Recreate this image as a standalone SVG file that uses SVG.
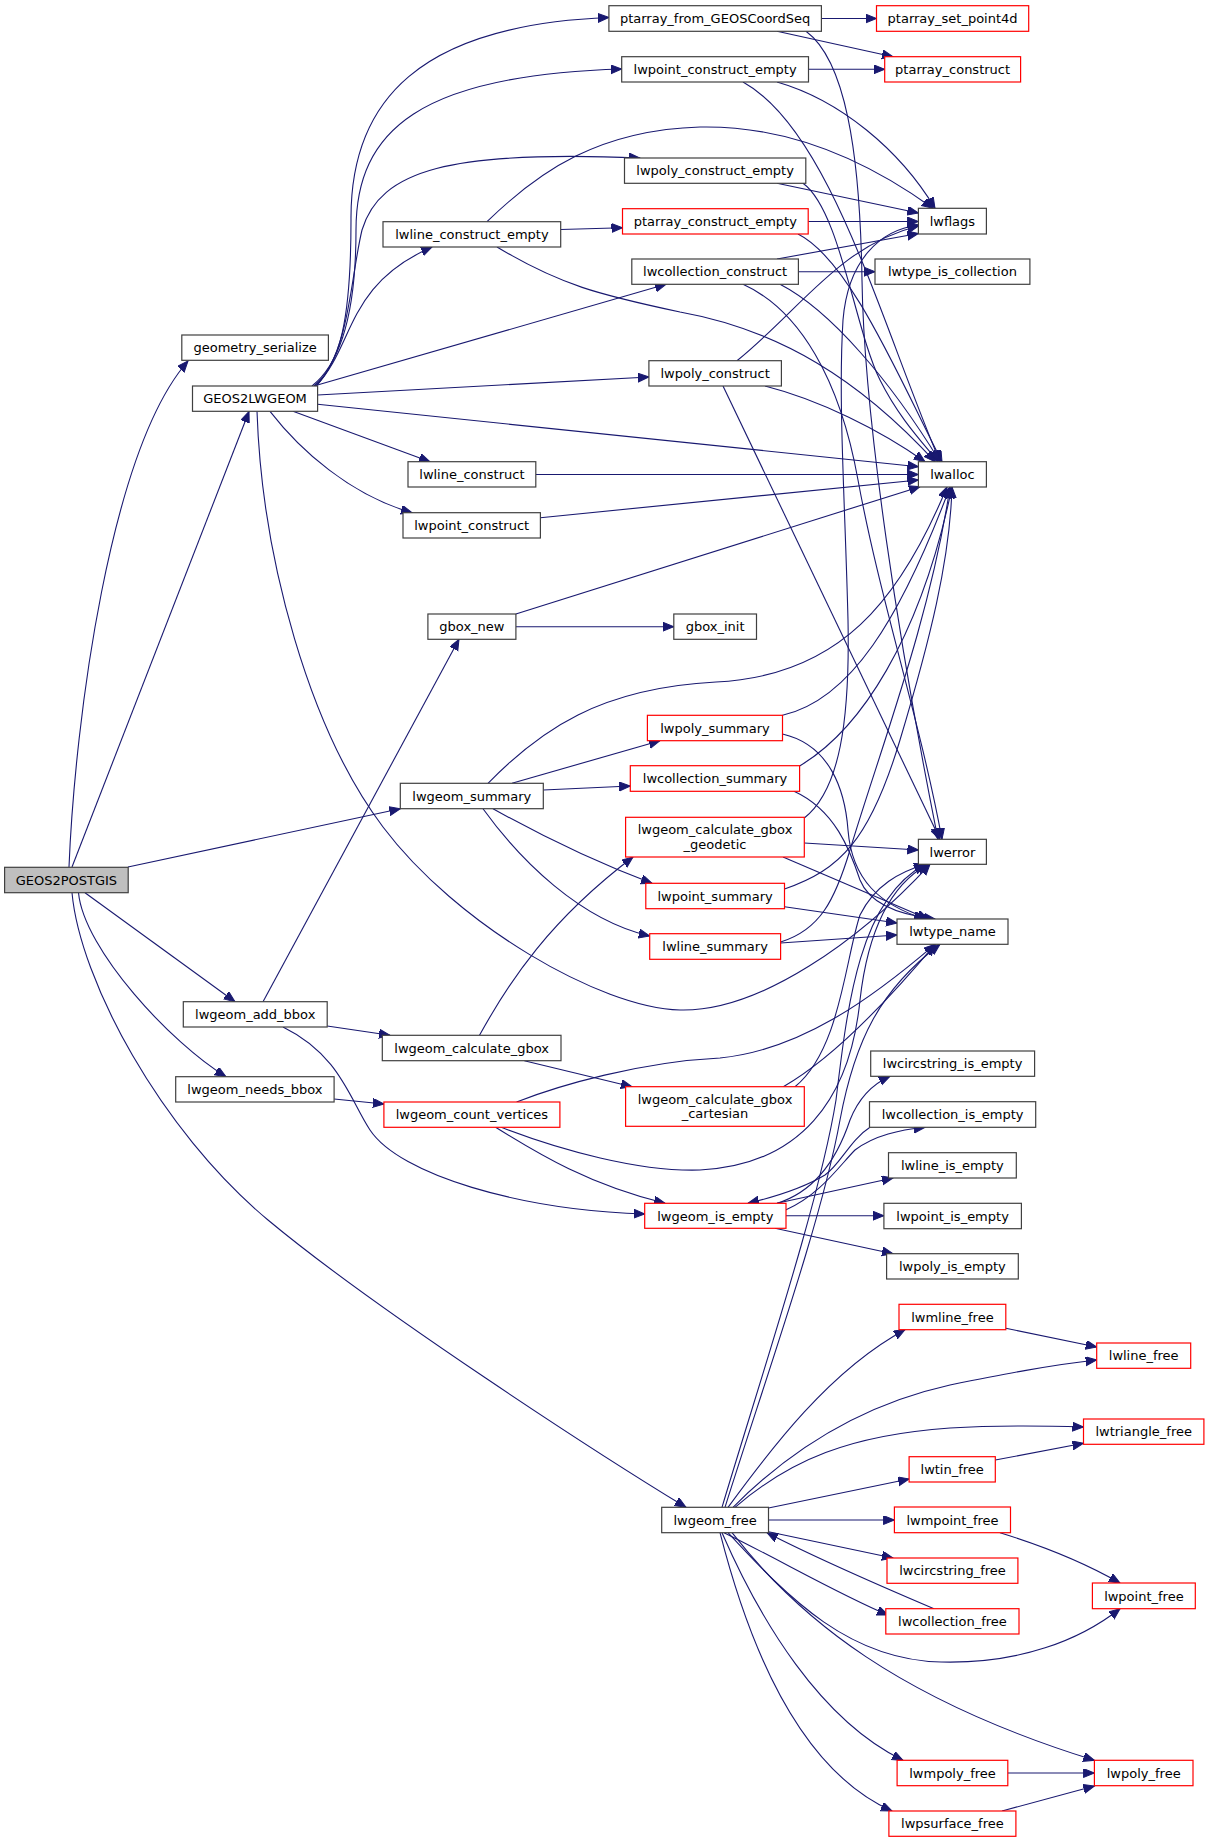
<svg xmlns="http://www.w3.org/2000/svg" width="1209" height="1843" viewBox="0 0 1209 1843">
<defs>
<marker id="a" markerWidth="12" markerHeight="10" refX="11" refY="4.5" orient="auto" markerUnits="userSpaceOnUse"><path d="M0,0 L11,4.5 L0,9 z" fill="#191970" stroke="#191970" stroke-width="1"/></marker>
<style>
rect{fill:#fff;stroke:#404040;stroke-width:1.2}
.r rect{stroke:#ff0000}
.root rect{fill:#bfbfbf}
text{font-family:"DejaVu Sans","Liberation Sans",sans-serif;font-size:13px;fill:#000;text-anchor:middle}
#edges path{fill:none;stroke:#191970;stroke-width:1.1;marker-end:url(#a)}
</style>
</defs>
<rect x="0" y="0" width="1209" height="1843" style="fill:#fff;stroke:none"/>
<g id="edges">
<path d="M69,867 C75,720 110,450 188,361"/>
<path d="M72,867 L249,411.5"/>
<path d="M128,867 L400.3,808.7"/>
<path d="M85,892.7 L235,1001.7"/>
<path d="M78.5,892.7 C84,950 172,1044 226,1076.7"/>
<path d="M72,892.7 C80,980 160,1130 268,1220 C376,1310 600,1455 686,1507.3"/>
<path d="M314,386 C340,365 351,320 351,220 C350,100 420,25 608.9,17.5"/>
<path d="M312,386 C345,360 356,300 356,230 C356,130 420,75 621.7,69"/>
<path d="M316,386 C350,350 350,280 362,230 C380,170 450,150 640,158"/>
<path d="M316,386 C355,345 345,285 432,247"/>
<path d="M314,386 L666,284.3"/>
<path d="M317.6,395 L648.9,377"/>
<path d="M317.6,404.3 L918.4,466.7"/>
<path d="M293,411.3 L430,461.7"/>
<path d="M270,411.3 C300,450 350,495 412,512.7"/>
<path d="M257,411.3 C262,560 310,730 383,827 C456,924 600,1008 680,1010 C760,1012 860,940 930,864.3"/>
<path d="M821.4,18.5 L876.5,18.5"/>
<path d="M777,31.3 L893,56.7"/>
<path d="M806,31.3 C845,60 860,150 862,280 C864,420 900,650 938,839.3"/>
<path d="M808.5,69.3 L884.7,69.3"/>
<path d="M777,82 C840,100 900,150 935,208.3"/>
<path d="M743,82 C830,130 880,320 940,461.7"/>
<path d="M777,183.3 L918.4,213"/>
<path d="M803,183.3 C840,210 855,330 880,380 C900,420 925,445 938,461.7"/>
<path d="M560.7,229.5 L622.5,227.7"/>
<path d="M487,221.7 C540,170 600,130 700,127 C800,125 880,170 933,208.3"/>
<path d="M497,247 C560,285 600,295 680,312 C780,330 860,380 935,461.7"/>
<path d="M808.2,221.5 L918.4,221.5"/>
<path d="M798,234 C850,260 900,380 942,461.7"/>
<path d="M777,259 L918.4,233.5"/>
<path d="M798.4,271.7 L875,271.7"/>
<path d="M780,284.3 C830,310 890,380 940,461.7"/>
<path d="M743,284.3 C800,310 840,380 858,480 C880,600 920,720 942,839.3"/>
<path d="M737,360.7 C800,310 840,245 918.4,226"/>
<path d="M765,386 C820,400 880,430 925,461.7"/>
<path d="M723,386 L940,839.3"/>
<path d="M535.8,474.5 L918.4,474.5"/>
<path d="M540.4,517.7 L918.4,480"/>
<path d="M515.9,614 L920,486.7"/>
<path d="M515.9,626.7 L673.8,626.7"/>
<path d="M488,783.3 C540,730 600,688 716,682 C840,676 900,600 947,487"/>
<path d="M512,783.3 L660,740.7"/>
<path d="M543.3,790 L630.3,786"/>
<path d="M493,808.7 C540,835 590,860 652,883.3"/>
<path d="M483,808.7 C520,860 580,920 649.7,936"/>
<path d="M782.5,715.3 C850,700 900,620 950,487"/>
<path d="M782.5,734 C830,745 845,790 848,830 C852,880 880,905 925,919"/>
<path d="M799.6,766 C860,730 920,640 952,487"/>
<path d="M794,791.3 C835,810 850,850 860,880 C870,905 900,915 935,919"/>
<path d="M804.3,818 C840,790 850,720 848,620 C845,500 838,400 843,320 C848,260 880,230 918.4,225"/>
<path d="M804.3,843 L918.4,850"/>
<path d="M783,857 L928,919"/>
<path d="M784.5,889 C840,870 870,840 900,740 C930,640 950,560 952,487"/>
<path d="M784.5,906.7 L897,923"/>
<path d="M780.6,942 C820,930 835,900 850,850 C880,750 930,620 950,487"/>
<path d="M780.6,943 L897,935"/>
<path d="M263,1001.7 L459,639.3"/>
<path d="M327.2,1026 L390,1035.3"/>
<path d="M283,1027 C340,1055 350,1100 370,1130 C400,1175 520,1210 644.7,1214"/>
<path d="M479.5,1035.3 C510,980 550,920 633,857"/>
<path d="M524.3,1060.7 L632,1086.7"/>
<path d="M334.1,1099 L383.9,1104"/>
<path d="M516.6,1102 C560,1085 640,1062 720,1058 C800,1050 870,1000 935,944.3"/>
<path d="M501.3,1127.3 C560,1150 640,1172 700,1170 C800,1165 850,1100 860,1000 C868,930 890,885 928,864.3"/>
<path d="M495.6,1127.3 C540,1155 590,1185 665,1203.3"/>
<path d="M783.3,1086.7 C830,1060 880,1010 935,944.3"/>
<path d="M795,1086.7 C840,1050 845,960 860,915 C875,885 900,872 925,864.3"/>
<path d="M777,1203.3 C820,1190 840,1150 850,1120 C860,1095 875,1083 890,1076.3"/>
<path d="M785.6,1210 C820,1195 840,1165 855,1150 C875,1135 900,1130 925,1127.3"/>
<path d="M777,1203.3 L893,1178"/>
<path d="M785.6,1215.7 L883.9,1215.7"/>
<path d="M775,1228.3 L893,1253.7"/>
<path d="M870,1127.3 C850,1140 840,1165 825,1175 C800,1190 770,1198 748,1203.3"/>
<path d="M722,1507.3 C760,1380 820,1200 836,1100 C848,1000 860,900 925,864.3"/>
<path d="M725,1507.3 C765,1380 822,1220 840,1120 C855,1040 880,990 940,944.3"/>
<path d="M728,1507.3 C770,1450 830,1370 905,1329.7"/>
<path d="M733,1507.3 C790,1450 860,1405 950,1385 C1000,1375 1050,1365 1096.7,1360"/>
<path d="M735,1507.3 C790,1460 850,1435 950,1428 C1000,1425 1050,1426 1083.5,1427"/>
<path d="M768.5,1508 L909.1,1479"/>
<path d="M768.5,1520 L894.4,1520"/>
<path d="M768.5,1531.7 L893,1558"/>
<path d="M724,1532.7 C780,1560 840,1595 888,1615"/>
<path d="M728,1532.7 C790,1600 850,1660 941,1662 C1020,1664 1080,1640 1120,1608.7"/>
<path d="M732,1532.7 C800,1620 900,1700 1094.4,1760.3"/>
<path d="M722,1532.7 C760,1620 820,1720 903,1760.3"/>
<path d="M720,1532.7 C750,1650 800,1770 892,1811"/>
<path d="M934,1608.7 C890,1590 820,1560 767,1532.7"/>
<path d="M1005.8,1328.3 L1096.7,1347"/>
<path d="M995.3,1460 L1083.5,1443.3"/>
<path d="M1000,1532.7 C1040,1545 1080,1560 1120,1583"/>
<path d="M1007.8,1773 L1094.4,1773"/>
<path d="M1002,1811 L1094.4,1786"/>
</g>
<g id="n_GEOS2POSTGIS" class="root"><rect x="4.6" y="867.3" width="123.6" height="25.4"/><text x="66.4" y="884.7">GEOS2POSTGIS</text></g>
<g id="n_geometry_serialize"><rect x="181.8" y="335" width="146.6" height="25.3"/><text x="255.1" y="352.3">geometry_serialize</text></g>
<g id="n_GEOS2LWGEOM"><rect x="192.5" y="386" width="125.1" height="25.3"/><text x="255" y="403.3">GEOS2LWGEOM</text></g>
<g id="n_lwline_construct_empty"><rect x="383" y="221.7" width="177.7" height="25.3"/><text x="471.9" y="239">lwline_construct_empty</text></g>
<g id="n_ptarray_from_GEOSCoordSeq"><rect x="608.9" y="5.7" width="212.5" height="25.6"/><text x="715.1" y="23.1">ptarray_from_GEOSCoordSeq</text></g>
<g id="n_ptarray_set_point4d" class="r"><rect x="876.5" y="5.7" width="152.2" height="25.6"/><text x="952.6" y="23.1">ptarray_set_point4d</text></g>
<g id="n_lwpoint_construct_empty"><rect x="621.7" y="56.7" width="186.8" height="25.3"/><text x="715.1" y="74">lwpoint_construct_empty</text></g>
<g id="n_ptarray_construct" class="r"><rect x="884.7" y="56.7" width="135.9" height="25.3"/><text x="952.6" y="74">ptarray_construct</text></g>
<g id="n_lwpoly_construct_empty"><rect x="624.5" y="158" width="181.3" height="25.3"/><text x="715.1" y="175.3">lwpoly_construct_empty</text></g>
<g id="n_lwflags"><rect x="918.4" y="208.3" width="68" height="25.7"/><text x="952.4" y="225.8">lwflags</text></g>
<g id="n_ptarray_construct_empty" class="r"><rect x="622.5" y="208.7" width="185.7" height="25.3"/><text x="715.3" y="226">ptarray_construct_empty</text></g>
<g id="n_lwcollection_construct"><rect x="631.8" y="259" width="166.6" height="25.3"/><text x="715.1" y="276.3">lwcollection_construct</text></g>
<g id="n_lwtype_is_collection"><rect x="875" y="259" width="154.9" height="25.3"/><text x="952.4" y="276.3">lwtype_is_collection</text></g>
<g id="n_lwpoly_construct"><rect x="648.9" y="360.7" width="132.5" height="25.3"/><text x="715.1" y="378">lwpoly_construct</text></g>
<g id="n_lwline_construct"><rect x="408" y="461.7" width="127.8" height="25.3"/><text x="471.9" y="479">lwline_construct</text></g>
<g id="n_lwpoint_construct"><rect x="403" y="512.7" width="137.4" height="25.3"/><text x="471.7" y="530">lwpoint_construct</text></g>
<g id="n_gbox_new"><rect x="427.9" y="614" width="88" height="25.3"/><text x="471.9" y="631.3">gbox_new</text></g>
<g id="n_lwgeom_summary"><rect x="400.3" y="783.3" width="143" height="25.4"/><text x="471.8" y="800.7">lwgeom_summary</text></g>
<g id="n_lwalloc"><rect x="918.4" y="461.7" width="68" height="25.3"/><text x="952.4" y="479">lwalloc</text></g>
<g id="n_gbox_init"><rect x="673.8" y="614" width="82.7" height="25.3"/><text x="715.1" y="631.3">gbox_init</text></g>
<g id="n_lwpoly_summary" class="r"><rect x="647.4" y="715.3" width="135.1" height="25.4"/><text x="715" y="732.7">lwpoly_summary</text></g>
<g id="n_lwcollection_summary" class="r"><rect x="630.3" y="765.7" width="169.3" height="25.6"/><text x="715" y="783.1">lwcollection_summary</text></g>
<g id="n_lwgeom_calculate_gbox_geodetic" class="r"><rect x="625.6" y="817.3" width="178.7" height="39.7"/><text x="715" y="834">lwgeom_calculate_gbox</text><text x="715" y="848.5">_geodetic</text></g>
<g id="n_lwerror"><rect x="918.4" y="839.3" width="68" height="25"/><text x="952.4" y="856.5">lwerror</text></g>
<g id="n_lwpoint_summary" class="r"><rect x="645.8" y="883.3" width="138.7" height="25.4"/><text x="715.1" y="900.7">lwpoint_summary</text></g>
<g id="n_lwline_summary" class="r"><rect x="649.7" y="933.7" width="130.9" height="25.6"/><text x="715.1" y="951.1">lwline_summary</text></g>
<g id="n_lwtype_name"><rect x="897" y="919" width="111" height="25.3"/><text x="952.5" y="936.3">lwtype_name</text></g>
<g id="n_lwgeom_add_bbox"><rect x="183.3" y="1001.7" width="143.9" height="25.3"/><text x="255.2" y="1019">lwgeom_add_bbox</text></g>
<g id="n_lwgeom_calculate_gbox"><rect x="382.3" y="1035.3" width="178.7" height="25.4"/><text x="471.6" y="1052.7">lwgeom_calculate_gbox</text></g>
<g id="n_lwgeom_needs_bbox"><rect x="175.7" y="1076.7" width="158.4" height="25.3"/><text x="254.9" y="1094">lwgeom_needs_bbox</text></g>
<g id="n_lwgeom_count_vertices" class="r"><rect x="383.9" y="1102" width="176" height="25.3"/><text x="471.9" y="1119.3">lwgeom_count_vertices</text></g>
<g id="n_lwcircstring_is_empty"><rect x="870.7" y="1051" width="163.9" height="25.3"/><text x="952.6" y="1068.3">lwcircstring_is_empty</text></g>
<g id="n_lwgeom_calculate_gbox_cartesian" class="r"><rect x="625.6" y="1086.7" width="178.7" height="39.6"/><text x="715" y="1103.5">lwgeom_calculate_gbox</text><text x="715" y="1118">_cartesian</text></g>
<g id="n_lwcollection_is_empty"><rect x="869.5" y="1101.7" width="166.2" height="25.6"/><text x="952.6" y="1119.1">lwcollection_is_empty</text></g>
<g id="n_lwline_is_empty"><rect x="888.5" y="1152.7" width="127.8" height="25.3"/><text x="952.4" y="1170">lwline_is_empty</text></g>
<g id="n_lwgeom_is_empty" class="r"><rect x="644.7" y="1203.3" width="141.3" height="25"/><text x="715.3" y="1220.5">lwgeom_is_empty</text></g>
<g id="n_lwpoint_is_empty"><rect x="883.9" y="1203.3" width="137.5" height="25.4"/><text x="952.6" y="1220.7">lwpoint_is_empty</text></g>
<g id="n_lwpoly_is_empty"><rect x="886.6" y="1253.7" width="131.7" height="25.3"/><text x="952.4" y="1271">lwpoly_is_empty</text></g>
<g id="n_lwmline_free" class="r"><rect x="899" y="1304.3" width="106.8" height="25.4"/><text x="952.4" y="1321.7">lwmline_free</text></g>
<g id="n_lwline_free" class="r"><rect x="1096.7" y="1343" width="94" height="25.3"/><text x="1143.7" y="1360.3">lwline_free</text></g>
<g id="n_lwtriangle_free" class="r"><rect x="1083.5" y="1419" width="120.4" height="25.3"/><text x="1143.7" y="1436.3">lwtriangle_free</text></g>
<g id="n_lwtin_free" class="r"><rect x="909.1" y="1456.7" width="86.2" height="25.3"/><text x="952.2" y="1474">lwtin_free</text></g>
<g id="n_lwgeom_free"><rect x="661.7" y="1507.3" width="106.8" height="25.4"/><text x="715.1" y="1524.7">lwgeom_free</text></g>
<g id="n_lwmpoint_free" class="r"><rect x="894.4" y="1507" width="116.1" height="25.7"/><text x="952.5" y="1524.5">lwmpoint_free</text></g>
<g id="n_lwcircstring_free" class="r"><rect x="887" y="1558" width="130.9" height="25.3"/><text x="952.5" y="1575.3">lwcircstring_free</text></g>
<g id="n_lwpoint_free" class="r"><rect x="1092.4" y="1583" width="102.9" height="25.7"/><text x="1143.9" y="1600.5">lwpoint_free</text></g>
<g id="n_lwcollection_free" class="r"><rect x="885.8" y="1608.7" width="133.2" height="25.3"/><text x="952.4" y="1626">lwcollection_free</text></g>
<g id="n_lwmpoly_free" class="r"><rect x="897.1" y="1760.3" width="110.7" height="25.4"/><text x="952.5" y="1777.7">lwmpoly_free</text></g>
<g id="n_lwpoly_free" class="r"><rect x="1094.4" y="1760.3" width="98.6" height="25.4"/><text x="1143.7" y="1777.7">lwpoly_free</text></g>
<g id="n_lwpsurface_free" class="r"><rect x="888.9" y="1811" width="127" height="25.3"/><text x="952.4" y="1828.3">lwpsurface_free</text></g>
</svg>
